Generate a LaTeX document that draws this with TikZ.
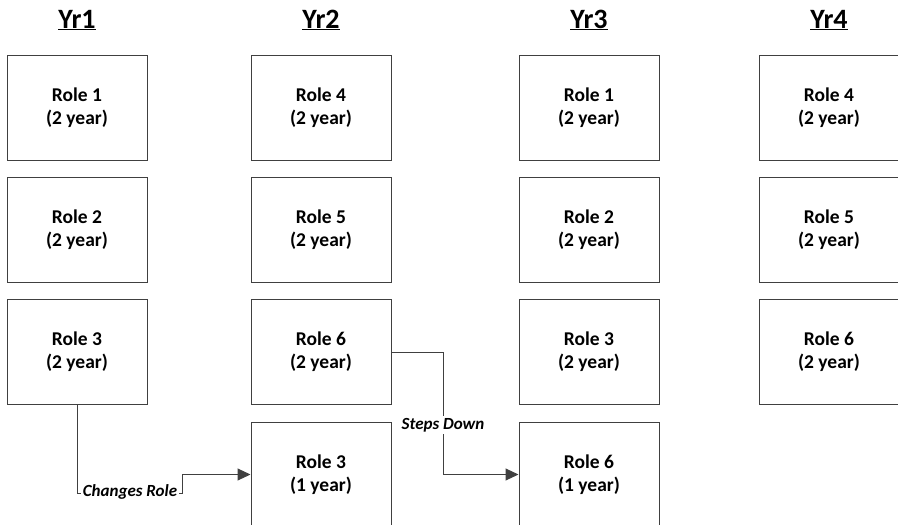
\documentclass[tikz,border=0pt]{standalone}
\usepackage{fontspec}
\setmainfont{Carlito}
\usetikzlibrary{arrows.meta}
\definecolor{linec}{HTML}{404040}
\begin{document}
\begin{tikzpicture}[x=1pt,y=-1pt,
  rolebox/.style={draw=linec, line width=1pt, minimum width=140pt, minimum height=105pt,
    inner sep=0pt, align=center, font=\fontsize{19.5}{23}\selectfont\bfseries},
  yrhead/.style={anchor=base, font=\fontsize{28}{32}\selectfont\bfseries, inner sep=0pt},
  conn/.style={draw=linec, line width=1pt, -{Triangle[length=13pt,width=12pt]}},
  lbl/.style={fill=white, inner sep=2pt, font=\fontsize{17}{20}\selectfont\bfseries\itshape}]
\useasboundingbox (0,0) rectangle (898,525);
\clip (0,0) rectangle (898,525);
% headings
\node[yrhead] (h1) at (77,28) {\underline{Yr1}};
\node[yrhead] (h2) at (321,28) {\underline{Yr2}};
\node[yrhead] (h3) at (589,28) {\underline{Yr3}};
\node[yrhead] (h4) at (829,28) {\underline{Yr4}};
% Yr1
\node[rolebox] (y1r1) at (77,107.5) {Role 1\\(2 year)};
\node[rolebox] (y1r2) at (77,230) {Role 2\\(2 year)};
\node[rolebox] (y1r3) at (77,352) {Role 3\\(2 year)};
% Yr2
\node[rolebox] (y2r1) at (321,107.5) {Role 4\\(2 year)};
\node[rolebox] (y2r2) at (321,230) {Role 5\\(2 year)};
\node[rolebox] (y2r3) at (321,352) {Role 6\\(2 year)};
\node[rolebox] (y2r4) at (321,474.5) {Role 3\\(1 year)};
% Yr3
\node[rolebox] (y3r1) at (589,107.5) {Role 1\\(2 year)};
\node[rolebox] (y3r2) at (589,230) {Role 2\\(2 year)};
\node[rolebox] (y3r3) at (589,352) {Role 3\\(2 year)};
\node[rolebox] (y3r4) at (589,474.5) {Role 6\\(1 year)};
% Yr4
\node[rolebox] (y4r1) at (829,107.5) {Role 4\\(2 year)};
\node[rolebox] (y4r2) at (829,230) {Role 5\\(2 year)};
\node[rolebox] (y4r3) at (829,352) {Role 6\\(2 year)};
% connectors
\coordinate (c1) at (182,493);
\draw[conn] (y1r3.south) |- (c1) |- (y2r4.west);
\node[lbl] (l1) at (130,492) {Changes Role};
\coordinate (c2) at (443,352);
\draw[conn] (y2r3.east) -- (c2) |- (y3r4.west);
\node[lbl] (l2) at (443,425) {Steps Down};
\end{tikzpicture}
\end{document}
